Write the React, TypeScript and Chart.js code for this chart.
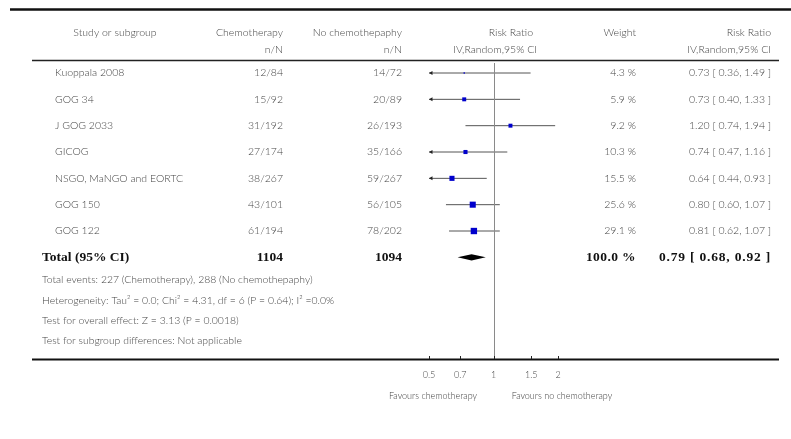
import { useEffect, useRef } from 'react';
import { Chart, registerables } from 'chart.js';

Chart.register(...registerables);

// Trial rows
const studies = [
  'Kuoppala 2008',
  'GOG 34',
  'J GOG 2033',
  'GICOG',
  'NSGO, MaNGO and EORTC',
  'GOG 150',
  'GOG 122',
];
const chemoEvents = [12, 15, 31, 27, 38, 43, 61];
const chemoTotal = [84, 92, 192, 174, 267, 101, 194];
const noChemoEvents = [14, 20, 26, 35, 59, 56, 78];
const noChemoTotal = [72, 89, 193, 166, 267, 105, 202];
const riskRatio = [0.73, 0.73, 1.2, 0.74, 0.64, 0.8, 0.81];
const ciLow = [0.36, 0.4, 0.74, 0.47, 0.44, 0.6, 0.62];
const ciHigh = [1.49, 1.33, 1.94, 1.16, 0.93, 1.07, 1.07];
const weights = [4.3, 5.9, 9.2, 10.3, 15.5, 25.6, 29.1];

// Pooled result
const totalChemoN = 1104;
const totalNoChemoN = 1094;
const totalWeight = 100.0;
const pooledRR = 0.79;
const pooledLow = 0.68;
const pooledHigh = 0.92;

const footnotes = [
  'Total events: 227 (Chemotherapy), 288 (No chemothepaphy)',
  'Heterogeneity: Tau\u00B2 = 0.0; Chi\u00B2 = 4.31, df = 6 (P = 0.64); I\u00B2 =0.0%',
  'Test for overall effect: Z = 3.13 (P = 0.0018)',
  'Test for subgroup differences: Not applicable',
];

// Axis
const tickValues = [0.5, 0.7, 1, 1.5, 2];
const tickLabels = ['0.5', '0.7', '1', '1.5', '2'];
const favourLeft = 'Favours chemotherapy';
const favourRight = 'Favours no chemotherapy';

// Marker half-sizes per row (box area grows with weight)
const markerRadius = [0.9, 2.8, 2.8, 2.9, 3.6, 4.3, 4.5];

const SANS = 'Lato, "Open Sans", "DejaVu Sans", sans-serif';
const SERIF = '"Liberation Serif", "DejaVu Serif", serif';
const TEXT = '#444444';

const fmt2 = (v: number) => v.toFixed(2);
const ciText = (r: number, l: number, h: number) => `${fmt2(r)} [ ${fmt2(l)}, ${fmt2(h)} ]`;

// Column anchors
const COL_NAME = 55;
const COL_TOTAL_LABEL = 42;
const COL_CHEMO = 283;
const COL_NOCHEMO = 402;
const COL_WEIGHT = 636;
const COL_RR = 771;

const forestTable = {
  id: 'forestTable',
  afterDraw(chart: any) {
    const { ctx, chartArea, scales } = chart;
    const xs = scales.x;
    const ys = scales.y;
    const top = chartArea.top;
    const bottom = chartArea.bottom;

    const hline = (x1: number, x2: number, y: number, w: number, c: string) => {
      ctx.save();
      ctx.strokeStyle = c;
      ctx.lineWidth = w;
      ctx.beginPath();
      ctx.moveTo(x1, y);
      ctx.lineTo(x2, y);
      ctx.stroke();
      ctx.restore();
    };
    const text = (
      s: string,
      x: number,
      y: number,
      align: CanvasTextAlign,
      font: string,
      color = TEXT,
      spacing = '0px'
    ) => {
      ctx.save();
      ctx.font = font;
      ctx.fillStyle = color;
      ctx.textAlign = align;
      ctx.textBaseline = 'middle';
      (ctx as any).letterSpacing = spacing;
      ctx.fillText(s, x, y);
      ctx.restore();
    };

    // Rules
    hline(10, 791, 9.5, 2.5, '#111');
    hline(32, 779, top - 2.5, 1.5, '#222');
    hline(32, 779, bottom + 0.5, 2, '#111');

    // Line of no effect
    const x1 = Math.round(xs.getPixelForValue(1)) + 0.5;
    ctx.save();
    ctx.strokeStyle = '#8a8a8a';
    ctx.lineWidth = 1;
    ctx.beginPath();
    ctx.moveTo(x1, top);
    ctx.lineTo(x1, bottom);
    ctx.stroke();
    ctx.restore();

    // Tick marks
    ctx.save();
    ctx.strokeStyle = '#222';
    ctx.lineWidth = 1;
    tickValues.forEach((v) => {
      const px = Math.round(xs.getPixelForValue(v)) + 0.5;
      ctx.beginPath();
      ctx.moveTo(px, bottom - 3);
      ctx.lineTo(px, bottom);
      ctx.stroke();
    });
    ctx.restore();

    // Headers
    const h1 = top - 30;
    const h2 = top - 13;
    const hf = `300 10.5px ${SANS}`;
    text('Study or subgroup', 115, h1, 'center', hf);
    text('Chemotherapy', COL_CHEMO, h1, 'right', hf);
    text('n/N', COL_CHEMO, h2, 'right', hf);
    text('No chemothepaphy', COL_NOCHEMO, h1, 'right', hf);
    text('n/N', COL_NOCHEMO, h2, 'right', hf);
    text('Risk Ratio', 533, h1, 'right', hf);
    text('IV,Random,95% CI', 537, h2, 'right', hf);
    text('Weight', COL_WEIGHT, h1, 'right', hf);
    text('Risk Ratio', COL_RR, h1, 'right', hf);
    text('IV,Random,95% CI', COL_RR, h2, 'right', hf);

    // Study rows
    const rf = `300 10.5px ${SANS}`;
    studies.forEach((name, i) => {
      const y = ys.getPixelForValue(i);
      text(name, COL_NAME, y, 'left', rf);
      text(`${chemoEvents[i]}/${chemoTotal[i]}`, COL_CHEMO, y, 'right', rf);
      text(`${noChemoEvents[i]}/${noChemoTotal[i]}`, COL_NOCHEMO, y, 'right', rf);
      text(`${weights[i].toFixed(1)} %`, COL_WEIGHT, y, 'right', rf);
      text(ciText(riskRatio[i], ciLow[i], ciHigh[i]), COL_RR, y, 'right', rf);

      // Arrowhead where the interval runs past the axis
      if (ciLow[i] < xs.min) {
        const ax = chartArea.left;
        ctx.save();
        ctx.fillStyle = '#222';
        ctx.beginPath();
        ctx.moveTo(ax, y);
        ctx.lineTo(ax + 3.5, y - 2);
        ctx.lineTo(ax + 3.5, y + 2);
        ctx.closePath();
        ctx.fill();
        ctx.restore();
      }
    });

    // Pooled row
    const ty = ys.getPixelForValue(studies.length);
    const bf = `bold 13.5px ${SERIF}`;
    text('Total (95% CI)', COL_TOTAL_LABEL, ty, 'left', bf, '#111');
    text(String(totalChemoN), COL_CHEMO, ty, 'right', bf, '#111');
    text(String(totalNoChemoN), COL_NOCHEMO, ty, 'right', bf, '#111');
    text(`${totalWeight.toFixed(1)} %`, COL_WEIGHT, ty, 'right', bf, '#111', '0.4px');
    text(ciText(pooledRR, pooledLow, pooledHigh), COL_RR, ty, 'right', bf, '#111', '0.8px');

    // Pooled diamond
    const dl = xs.getPixelForValue(pooledLow);
    const dc = xs.getPixelForValue(pooledRR);
    const dr = xs.getPixelForValue(pooledHigh);
    ctx.save();
    ctx.fillStyle = '#000';
    ctx.beginPath();
    ctx.moveTo(dl, ty);
    ctx.lineTo(dc, ty - 3.2);
    ctx.lineTo(dr, ty);
    ctx.lineTo(dc, ty + 3.2);
    ctx.closePath();
    ctx.fill();
    ctx.restore();

    // Footnotes
    const ff = `300 10.4px ${SANS}`;
    footnotes.forEach((s, k) => {
      text(s, COL_TOTAL_LABEL, ty + 22.7 + k * 20.3, 'left', ff);
    });

    // Favours labels
    const fl = `300 9px ${SANS}`;
    text(favourLeft, 433, bottom + 37, 'center', fl);
    text(favourRight, 562, bottom + 37, 'center', fl);
  },
};

export default function App() {
  const ref = useRef<HTMLCanvasElement>(null);

  useEffect(() => {
    const canvas = ref.current;
    if (!canvas) return;

    const whiskers: { x: number | null; y: number | null }[] = [];
    studies.forEach((_, i) => {
      whiskers.push({ x: ciLow[i], y: i }, { x: ciHigh[i], y: i }, { x: null, y: null });
    });

    const chart = new Chart(canvas, {
      type: 'scatter',
      data: {
        datasets: [
          {
            type: 'line',
            data: whiskers as any,
            borderColor: '#555',
            borderWidth: 1,
            pointRadius: 0,
            showLine: true,
            spanGaps: false,
            clip: 0,
            order: 2,
          } as any,
          {
            data: studies.map((_, i) => ({ x: riskRatio[i], y: i })),
            pointStyle: 'rect',
            pointRadius: markerRadius,
            backgroundColor: '#0000cc',
            borderColor: '#0000cc',
            borderWidth: 0,
            order: 1,
          } as any,
        ],
      },
      options: {
        responsive: false,
        animation: false,
        events: [],
        layout: { padding: { left: 429, right: 233, top: 63, bottom: 0 } },
        plugins: { legend: { display: false }, tooltip: { enabled: false } },
        scales: {
          x: {
            type: 'logarithmic',
            min: tickValues[0],
            max: tickValues[tickValues.length - 1],
            grid: { display: false, drawTicks: false },
            border: { display: false },
            afterBuildTicks: (scale: any) => {
              scale.ticks = tickValues.map((v) => ({ value: v }));
            },
            afterFit: (scale: any) => {
              scale.height = 80;
            },
            ticks: {
              autoSkip: false,
              maxRotation: 0,
              padding: 11,
              color: TEXT,
              font: { family: SANS, size: 9, weight: '300' },
              callback: (_v: any, i: number) => tickLabels[i],
            },
          },
          y: {
            type: 'linear',
            display: false,
            reverse: true,
            min: -0.38,
            max: 10.86,
          },
        },
      } as any,
      plugins: [forestTable],
    });

    return () => chart.destroy();
  }, []);

  return (
    <div style={{ position: 'fixed', left: 0, top: 0, width: 791, height: 439, background: '#fff' }}>
      <canvas ref={ref} width={791} height={439} />
    </div>
  );
}
